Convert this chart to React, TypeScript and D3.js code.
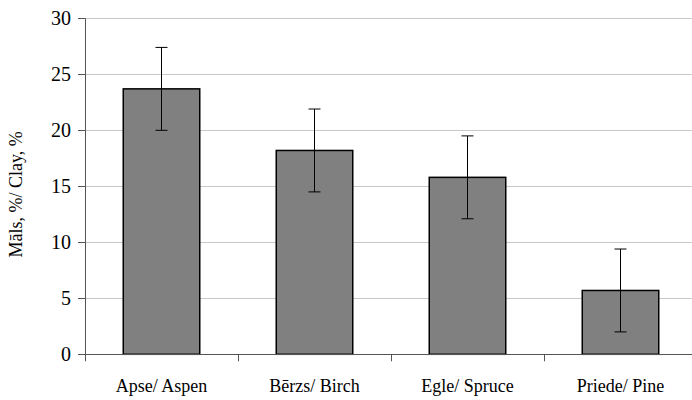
import React from "react";
import * as d3 from "d3";

const categories = ["Apse/ Aspen", "Bērzs/ Birch", "Egle/ Spruce", "Priede/ Pine"];
const values = [23.7, 18.2, 15.8, 5.7];
const errors = [3.7, 3.7, 3.7, 3.7];
const yTicks = [0, 5, 10, 15, 20, 25, 30];
const yLabel = "Māls, %/ Clay, %";

const W = 692;
const H = 400;
const left = 85;
const top = 18.3;
const bottom = 354.3;
const bandEnd = 697;
const textStyle = { fontFamily: "'Liberation Serif', 'Times New Roman', serif" };

export default function App() {
  const y = d3.scaleLinear().domain([0, 30]).range([bottom, top]);
  const x = d3
    .scaleBand<string>()
    .domain(categories)
    .range([left, bandEnd])
    .paddingInner(0.5)
    .paddingOuter(0.25);
  const step = x.step();
  const boundaries = d3.range(categories.length + 1).map((i) => left + i * step);
  const cap = 6;

  return (
    <svg
      width={W}
      height={H}
      style={{ position: "absolute", left: 0, top: 0, background: "#fff" }}
    >
      {yTicks.slice(1).map((t) => (
        <line key={"g" + t} x1={left} x2={W} y1={Math.round(y(t)) + 0.5} y2={Math.round(y(t)) + 0.5} stroke="#c8c8c8" strokeWidth={1} />
      ))}
      {values.map((v, i) => {
        const bx = x(categories[i])!;
        return (
          <rect
            key={"b" + i}
            x={bx}
            y={y(v)}
            width={x.bandwidth()}
            height={y(0) - y(v)}
            fill="#808080"
            stroke="#000"
            strokeWidth={1.5}
          />
        );
      })}
      {values.map((v, i) => {
        const cx = x(categories[i])! + x.bandwidth() / 2;
        const hi = y(v + errors[i]);
        const lo = y(v - errors[i]);
        return (
          <g key={"e" + i} stroke="#000" strokeWidth={1}>
            <line x1={cx} x2={cx} y1={hi} y2={lo} />
            <line x1={cx - cap} x2={cx + cap} y1={hi} y2={hi} />
            <line x1={cx - cap} x2={cx + cap} y1={lo} y2={lo} />
          </g>
        );
      })}
      <line x1={left + 0.5} x2={left + 0.5} y1={top} y2={bottom} stroke="#555" strokeWidth={1} />
      {yTicks.map((t) => (
        <g key={"t" + t}>
          <line x1={left - 7} x2={left} y1={Math.round(y(t)) + 0.5} y2={Math.round(y(t)) + 0.5} stroke="#555" strokeWidth={1} />
          <text x={left - 14} y={y(t)} dy="0.35em" textAnchor="end" fontSize={20} fill="#000" style={textStyle}>
            {t}
          </text>
        </g>
      ))}
      <line x1={left} x2={W} y1={Math.round(bottom) + 0.5} y2={Math.round(bottom) + 0.5} stroke="#555" strokeWidth={1} />
      {boundaries.map((b, i) => (
        <line key={"xt" + i} x1={Math.round(b) + 0.5} x2={Math.round(b) + 0.5} y1={bottom} y2={bottom + 7} stroke="#555" strokeWidth={1} />
      ))}
      {categories.map((c) => (
        <text key={c} x={x(c)! + x.bandwidth() / 2} y={392} textAnchor="middle" fontSize={18} fill="#000" style={textStyle}>
          {c}
        </text>
      ))}
      <text
        transform={`translate(22, ${(top + bottom) / 2 + 8}) rotate(-90)`}
        textAnchor="middle"
        fontSize={18}
        fill="#000"
        style={textStyle}
      >
        {yLabel}
      </text>
    </svg>
  );
}
